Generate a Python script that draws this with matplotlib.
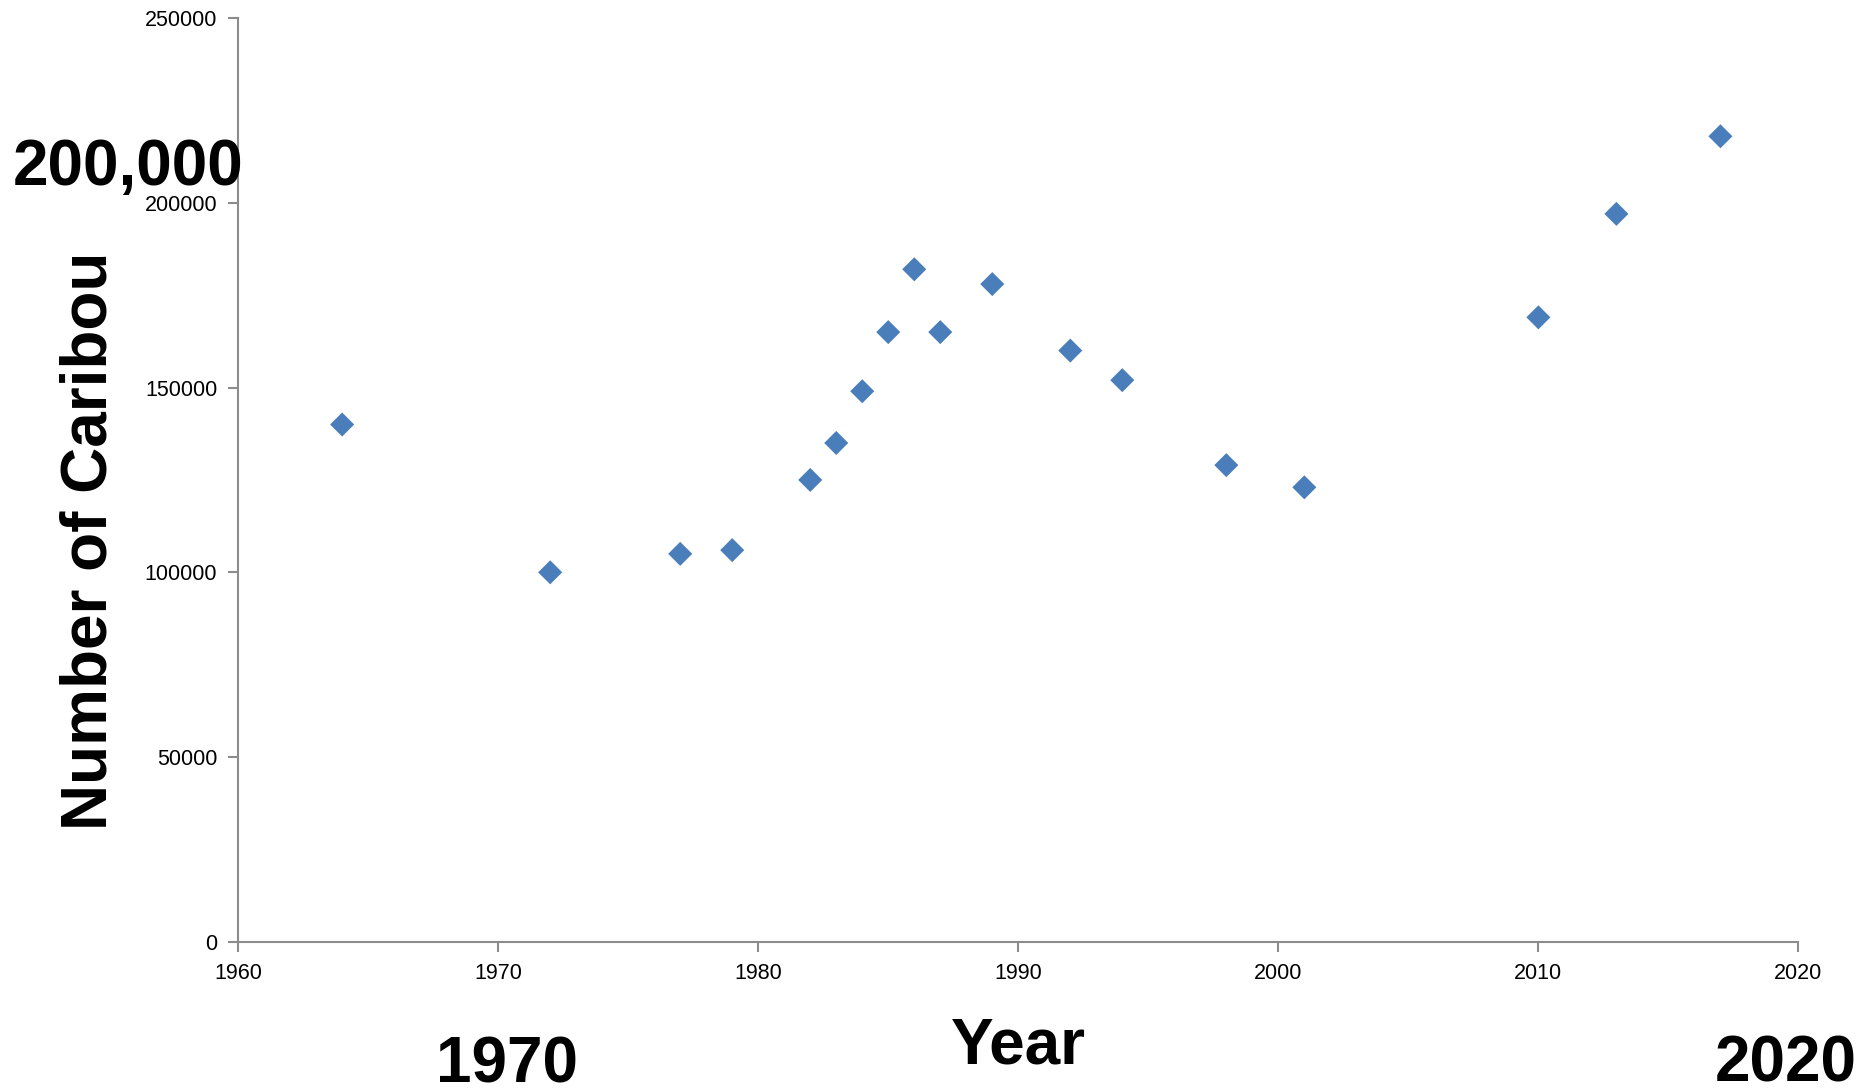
import matplotlib
matplotlib.use("Agg")
import matplotlib.pyplot as plt

# Caribou counts
years = [1964, 1972, 1977, 1979, 1982, 1983, 1984, 1985, 1986, 1987,
         1989, 1992, 1994, 1998, 2001, 2010, 2013, 2017]
caribou = [140000, 100000, 105000, 106000, 125000, 135000, 149000, 165000,
           182000, 165000, 178000, 160000, 152000, 129000, 123000, 169000,
           197000, 218000]
x_ticks = [1960, 1970, 1980, 1990, 2000, 2010, 2020]
y_ticks = [0, 50000, 100000, 150000, 200000, 250000]

fig = plt.figure(figsize=(18.72, 10.92), dpi=100)
ax = fig.add_axes([0.1272, 0.1375, 0.8335, 0.846])

ax.scatter(years, caribou, marker="D", s=150, color="#4A7EBB",
           edgecolors="none", zorder=3)

ax.set_xlim(1960, 2020)
ax.set_ylim(0, 250000)
ax.set_xticks(x_ticks)
ax.set_yticks(y_ticks)
ax.set_xticklabels([str(v) for v in x_ticks], family="Liberation Sans", fontsize=15.5)
ax.set_yticklabels([str(v) for v in y_ticks], family="Liberation Sans", fontsize=15.5)

for side in ["top", "right"]:
    ax.spines[side].set_visible(False)
for side in ["left", "bottom"]:
    ax.spines[side].set_color("#8C8C8C")
    ax.spines[side].set_linewidth(1.5)
ax.tick_params(direction="out", length=7, width=1.5, color="#8C8C8C",
               labelcolor="black", pad=8)

# Big bold annotations
big = dict(family="Liberation Sans", fontweight="bold", fontsize=46,
           ha="center", va="center", color="black")
fig.text(0.0684, 0.846, "200,000", **big)
fig.text(0.048, 0.505, "Number of Caribou", rotation=90, **big)
fig.text(0.544, 0.042, "Year", **big)
fig.text(0.271, 0.024, "1970", **big)
fig.text(0.954, 0.025, "2020", **big)

fig.savefig("out.png", dpi=100)
